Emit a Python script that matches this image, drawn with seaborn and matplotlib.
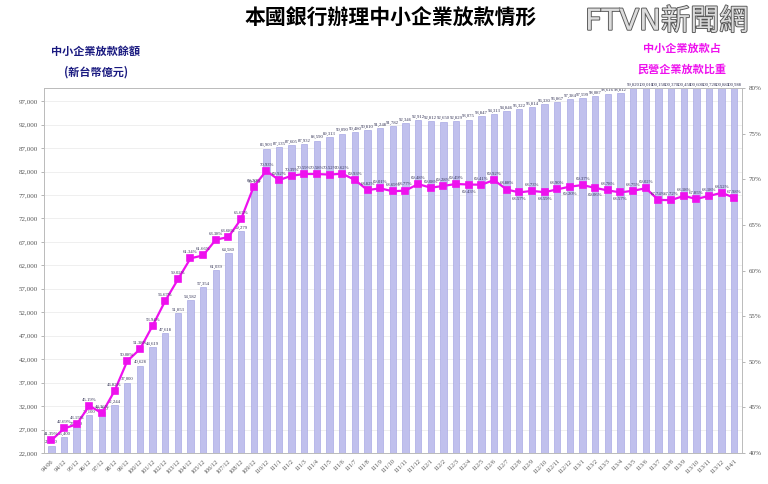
import pandas as pd
import matplotlib
matplotlib.use('Agg')
import matplotlib.pyplot as plt
import matplotlib.patheffects as pe
import seaborn as sns

# categories (year/month, ROC calendar)
periods = ['94/06', '94/12', '95/12', '96/12', '97/12', '98/12', '99/12', '100/12',
           '101/12', '102/12', '103/12', '104/12', '105/12', '106/12', '107/12',
           '108/12', '109/12', '110/12',
           '111/1', '111/2', '111/3', '111/4', '111/5', '111/6', '111/7', '111/8',
           '111/9', '111/10', '111/11', '111/12',
           '112/1', '112/2', '112/3', '112/4', '112/5', '112/6', '112/7', '112/8',
           '112/9', '112/10', '112/11', '112/12',
           '113/1', '113/2', '113/3', '113/4', '113/5', '113/6', '113/7', '113/8',
           '113/9', '113/10', '113/11', '113/12', '114/1']

# SME loan balance (NT$ 100 million)
loan_balance = [23600, 25400, 27500, 30100, 30700, 32244, 37000, 40628,
                44619, 47618, 51853, 54582, 57354, 61039, 64580,
                69279, 79160, 86903,
                87135, 87605, 87932, 88590, 89313, 90090, 90480, 90810,
                91248, 91782, 92346, 92912,
                92812, 92650, 92829, 93075, 93847, 94313, 94846, 95322,
                95814, 96330, 96867, 97384,
                97599, 98087, 98616, 98812, 99820, 100010, 100150, 100370,
                100450, 100600, 100720, 100880, 100988]

# SME loans share of private enterprise loans (%)
sme_share = [41.39, 42.69, 43.15, 45.19, 44.36, 46.82, 50.08, 51.38,
             53.94, 56.67, 59.02, 61.34, 61.66, 63.38, 63.68,
             65.65, 69.20, 70.93,
             69.92, 70.39, 70.59, 70.58, 70.52, 70.62, 69.93, 68.82,
             69.01, 68.69, 68.77, 69.48,
             69.08, 69.28, 69.49, 69.43, 69.41, 69.92, 68.88, 68.57,
             68.73, 68.59, 68.90, 69.20,
             69.37, 69.06, 68.78, 68.57, 68.75, 69.02, 67.74, 67.72,
             68.18, 67.85, 68.18, 68.52, 67.98]

left_ticks = list(range(22000, 98000, 5000))
right_ticks = [40, 45, 50, 55, 60, 65, 70, 75, 80]

df = pd.DataFrame({'period': periods, 'loan': loan_balance, 'share': sme_share})

sns.set_style('white')
plt.rcParams['font.family'] = ['Liberation Serif', 'Noto Sans CJK TC', 'DejaVu Sans']
cjk = ['Noto Sans CJK TC', 'DejaVu Sans']

fig = plt.figure(figsize=(7.68, 4.84), dpi=100)
ax = fig.add_axes([0.057, 0.064, 0.909, 0.754])

bar_color = '#b9b9f4'
line_color = '#ee11ee'
y_max = 99800

sns.barplot(data=df, x='period', y='loan', order=periods, color=bar_color,
            width=0.5, edgecolor='#9c9ce0', linewidth=0.4, ax=ax)
ax.set_ylim(22000, y_max)
ax.set_yticks(left_ticks)
ax.set_yticklabels([f'{t:,}' for t in left_ticks], fontsize=5, color='#555555')
ax.yaxis.grid(True, color='#ececec', linewidth=0.6)
ax.set_axisbelow(True)
ax.set_xlabel('')
ax.set_ylabel('')
ax.set_xlim(-0.6, len(periods) - 0.4)
ax.set_xticks(range(len(periods)))
ax.set_xticklabels(periods, rotation=45, ha='right', rotation_mode='anchor',
                   fontsize=4.6, color='#555555')
ax.tick_params(axis='both', length=2, width=0.5, pad=2, color='#999999')
for s in ax.spines.values():
    s.set_color('#bbbbbb')
    s.set_linewidth(0.6)

for i, v in enumerate(loan_balance):
    ax.text(i, min(v, y_max) + 250, f'{v:,}', ha='center', va='bottom',
            fontsize=3.4, color='#333355', clip_on=False)

ax2 = ax.twinx()
sns.pointplot(data=df, x='period', y='share', order=periods, color=line_color,
              marker='s', markersize=4, linewidth=1.6, ax=ax2)
ax2.set_ylim(40, 80)
ax2.set_yticks(right_ticks)
ax2.set_yticklabels([f'{t}%' for t in right_ticks], fontsize=5, color='#555555')
ax2.set_ylabel('')
ax2.set_xlim(-0.6, len(periods) - 0.4)
ax2.tick_params(axis='y', length=2, width=0.5, pad=3, color='#999999')
for s in ax2.spines.values():
    s.set_color('#bbbbbb')
    s.set_linewidth(0.6)

below = {33, 37, 39, 41, 43, 45}
for i, v in enumerate(sme_share):
    if i in below:
        ax2.text(i, v - 0.55, f'{v:.2f}%', ha='center', va='top',
                 fontsize=3.4, color='#333355')
    else:
        ax2.text(i, v + 0.45, f'{v:.2f}%', ha='center', va='bottom',
                 fontsize=3.4, color='#333355')

# titles and axis captions
fig.text(0.508, 0.962, '本國銀行辦理中小企業放款情形', ha='center', va='center',
         fontsize=15, fontweight='bold', color='black', family=cjk)
fig.text(0.125, 0.893, '中小企業放款餘額', ha='center', va='center',
         fontsize=8, fontweight='bold', color='#1a1a80', family=cjk)
fig.text(0.125, 0.852, '(新台幣億元)', ha='center', va='center',
         fontsize=8, fontweight='bold', color='#1a1a80', family=cjk)
fig.text(0.888, 0.900, '中小企業放款占', ha='center', va='center',
         fontsize=8, fontweight='bold', color='#ee11ee', family=cjk)
fig.text(0.888, 0.858, '民營企業放款比重', ha='center', va='center',
         fontsize=8, fontweight='bold', color='#ee11ee', family=cjk)

logo = fig.text(0.868, 0.955, 'FTVN新聞網', ha='center', va='center',
                fontsize=21, color='#dcdcdc', family=['DejaVu Sans', 'Noto Sans CJK TC'])
logo.set_path_effects([pe.withStroke(linewidth=1.3, foreground='#555555')])

plt.savefig('out.png', dpi=100)
